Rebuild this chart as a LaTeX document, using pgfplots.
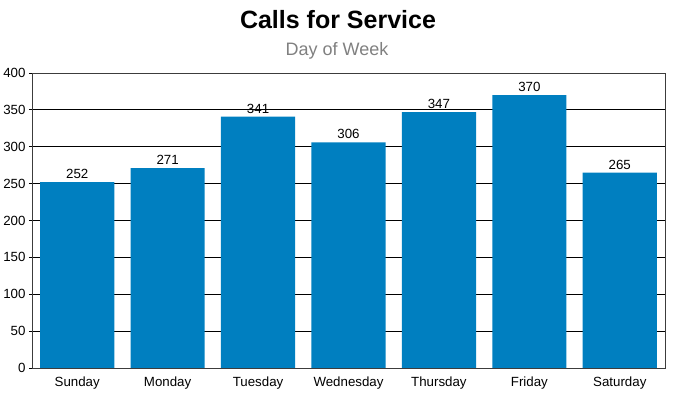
\documentclass[border=0pt]{standalone}
\usepackage{pgfplots}
\pgfplotsset{compat=1.18}
\usepackage{fontspec}
\setmainfont{Liberation Sans}
\definecolor{barblue}{RGB}{0,127,192}
\definecolor{axgray}{RGB}{60,60,60}
\begin{document}
\begin{tikzpicture}
\begin{axis}[
  at={(0pt,0pt)}, anchor=south west,
  scale only axis, width=633pt, height=295pt,
  ymin=0, ymax=400, ytick={0,50,...,400},
  xmin=-0.5, xmax=6.5,
  xtick={0,...,6},
  xticklabels={Sunday,Monday,Tuesday,Wednesday,Thursday,Friday,Saturday},
  x tick label style={font=\fontsize{13.3}{15}\selectfont, yshift=-2pt},
  y tick label style={font=\fontsize{13.3}{15}\selectfont},
  /pgf/number format/assume math mode=true,
  ymajorgrids, grid style={black, line width=0.8pt},
  axis line style={axgray, line width=0.8pt},
  xtick style={draw=none},
  ytick style={black, line width=0.8pt},
  ytick pos=left,
  tick align=outside, major tick length=3pt,
  ybar, bar width=0.82,
  nodes near coords,
  nodes near coords style={font=\fontsize{13.3}{15}\selectfont, black, inner sep=2pt, yshift=1pt},
]
\addplot[fill=barblue, draw=none] coordinates {(0,252) (1,271) (2,341) (3,306) (4,347) (5,370) (6,265)};
\end{axis}
\node[font=\bfseries\fontsize{25}{30}\selectfont] at (306pt,348pt) {Calls for Service};
\node[font=\fontsize{18}{21}\selectfont, text=gray] at (305pt,317pt) {Day of Week};
\pgfresetboundingbox
\useasboundingbox (-32pt,-27pt) rectangle (644pt,368pt);
\end{tikzpicture}
\end{document}
